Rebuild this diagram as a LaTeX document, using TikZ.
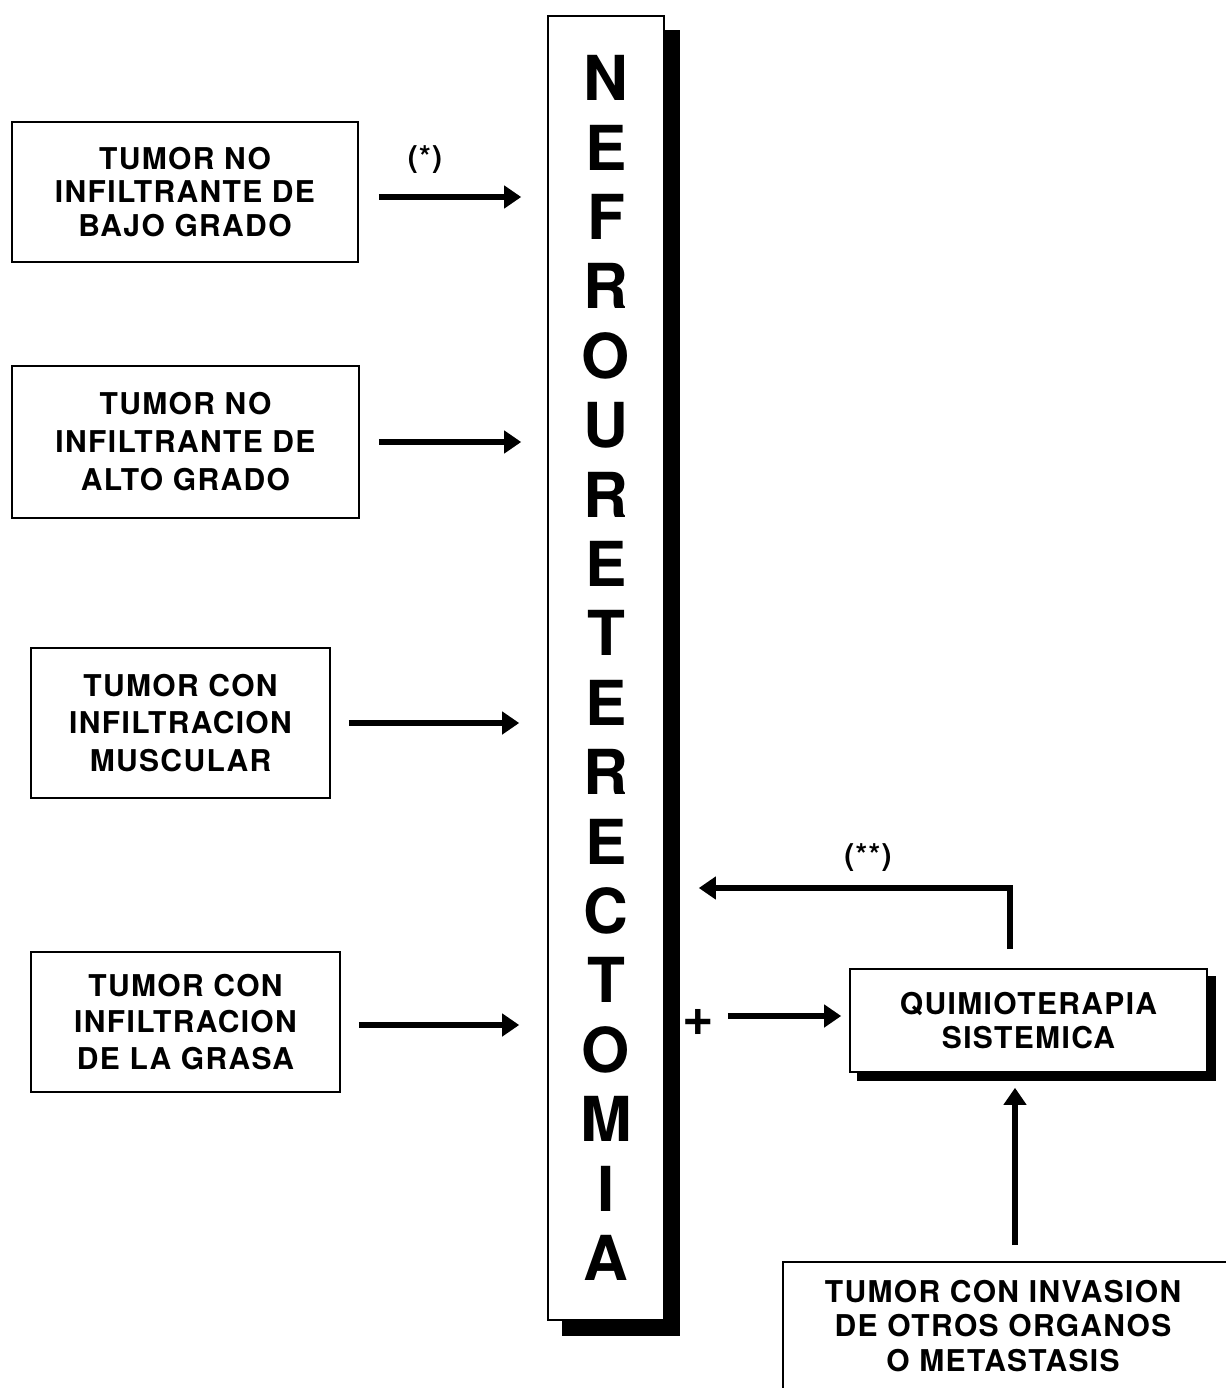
\documentclass[tikz,border=0pt]{standalone}
\usepackage{fontspec}
\setmainfont{TeX Gyre Heros}
\newfontfamily\boxfont[LetterSpace=4.5]{TeX Gyre Heros}
\usetikzlibrary{arrows.meta,backgrounds}
\begin{document}
\begin{tikzpicture}[x=1pt,y=-1pt,
  frame/.style={draw, line width=1.6pt, fill=white, inner sep=0pt},
  lbl/.style={font=\boxfont\bfseries\fontsize{30}{#1}\selectfont, align=center},
  lbl/.default=36,
  arr/.style={line width=6pt, -{Triangle[length=17pt,width=22pt]}},
]
\useasboundingbox (0,0) rectangle (1225,1388);

% stage boxes on the left
\node[frame, minimum width=346pt, minimum height=140pt, lbl=33.5] (b1) at (185,192)
  {TUMOR NO\\INFILTRANTE DE\\BAJO GRADO};
\node[frame, minimum width=347pt, minimum height=152pt, lbl=38] (b2) at (185.5,442)
  {TUMOR NO\\INFILTRANTE DE\\ALTO GRADO};
\node[frame, minimum width=299pt, minimum height=150pt, lbl=37.5] (b3) at (180.5,723)
  {TUMOR CON\\INFILTRACION\\MUSCULAR};
\node[frame, minimum width=309pt, minimum height=140pt, lbl=36.5] (b4) at (185.5,1022)
  {TUMOR CON\\INFILTRACION\\DE LA GRASA};

% central procedure column
\node[frame, minimum width=116pt, minimum height=1304pt,
      font=\bfseries\fontsize{62}{69.4}\selectfont, align=center] (big) at (606,668)
  {N\\E\\F\\R\\O\\U\\R\\E\\T\\E\\R\\E\\C\\T\\O\\M\\I\\A};

% chemotherapy box
\node[frame, minimum width=357pt, minimum height=103pt, lbl=34] (q) at (1028.5,1020.5)
  {QUIMIOTERAPIA\\SISTEMICA};

% drop shadows
\begin{scope}[on background layer]
  \fill ([shift={(15,15)}]big.north west) rectangle ([shift={(15,15)}]big.south east);
  \fill ([shift={(8,8)}]q.north west) rectangle ([shift={(8,8)}]q.south east);
\end{scope}

% advanced stage box, running off the page
\draw[line width=1.6pt] (1245,1262) -| (783,1400);
\node[lbl=34.5] (tm) at (1003,1326)
  {TUMOR CON INVASION\\DE OTROS ORGANOS\\O METASTASIS};
\coordinate (tmtop) at (1015,1262);

% labels
\node[lbl] (s1) at (425,160) {(*)};
\node[lbl] (s2) at (868,858) {(**)};
\node[font=\bfseries\fontsize{54}{54}\selectfont, inner sep=0pt] (pl) at (698,1022) {+};

% arrows into the column
\draw[arr, shorten <=20pt, shorten >=26pt] ([yshift=-5pt]b1.east) -- ([yshift=-5pt]b1.east -| big.west);
\draw[arr, shorten <=19pt, shorten >=26pt] (b2.east) -- (b2.east -| big.west);
\draw[arr, shorten <=18pt, shorten >=28pt] (b3.east) -- (b3.east -| big.west);
\draw[arr, shorten <=18pt, shorten >=28pt] ([yshift=-3pt]b4.east) -- ([yshift=-3pt]b4.east -| big.west);

% chemotherapy links
\draw[arr, shorten <=14pt, shorten >=8pt] ([yshift=6pt]pl.east) -- ([yshift=6pt]pl.east -| q.west);
\coordinate (fb) at (1010,888);
\draw[arr, shorten <=19pt, shorten >=34pt] (q.north -| fb) -- (fb) -- (fb -| big.east);
\draw[arr, shorten <=17pt, shorten >=15pt] (tmtop) -- (tmtop |- q.south);
\end{tikzpicture}
\end{document}
